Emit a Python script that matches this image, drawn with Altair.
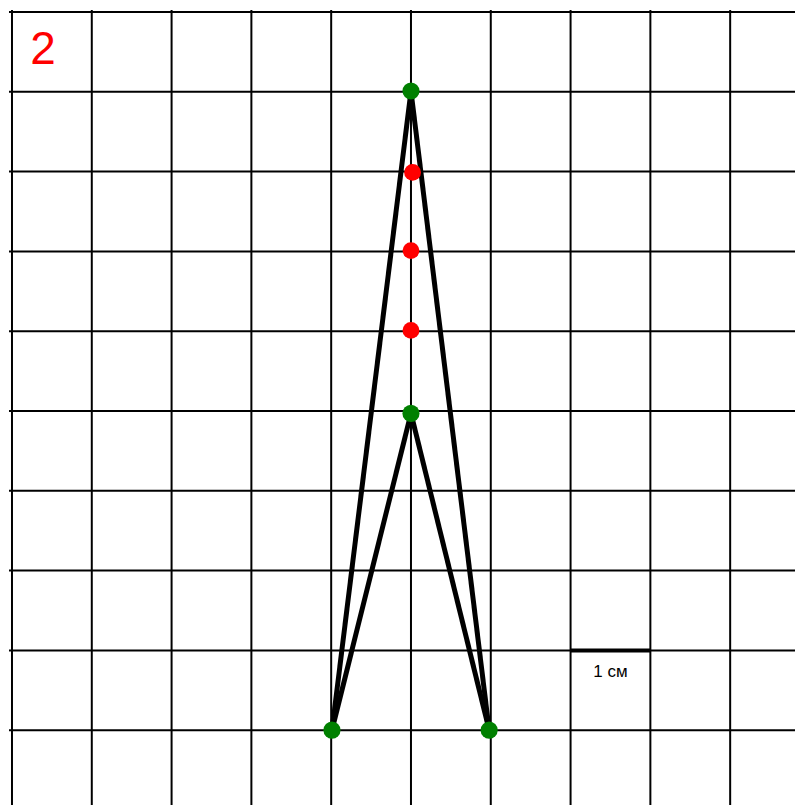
import altair as alt
import pandas as pd

# grid (in cm units)
grid_x = [0, 1, 2, 3, 4, 5, 6, 7, 8, 9]
grid_y = [0, 1, 2, 3, 4, 5, 6, 7, 8, 9]

# triangle segments
seg_x1 = [5.0, 5.0, 5.0, 5.0]
seg_y1 = [0.99, 0.99, 5.03, 5.03]
seg_x2 = [4.01, 5.98, 4.01, 5.98]
seg_y2 = [9.0, 9.0, 9.0, 9.0]

# points
green_x = [5.0, 5.0, 4.01, 5.98]
green_y = [0.99, 5.03, 9.0, 9.0]
red_x = [5.02, 5.0, 5.0]
red_y = [2.01, 2.99, 3.99]

# scale bar
bar_x = [7]
bar_x2 = [8]
bar_y = [8]
bar_label = ["1 см"]
panel_label = ["2"]

X0, Y0 = -3 / 80, -2 / 80
W, H = 788, 797
xs = alt.Scale(domain=[X0, X0 + W / 80], nice=False, zero=False)
ys = alt.Scale(domain=[Y0, Y0 + H / 80], nice=False, zero=False, reverse=True)

vlines = alt.Chart(pd.DataFrame({"x": grid_x})).mark_rule(color="black", strokeWidth=2).encode(
    x=alt.X("x:Q", scale=xs, axis=None)
)
hlines = alt.Chart(pd.DataFrame({"y": grid_y})).mark_rule(color="black", strokeWidth=2).encode(
    y=alt.Y("y:Q", scale=ys, axis=None)
)

segs = alt.Chart(pd.DataFrame({"x": seg_x1, "y": seg_y1, "x2": seg_x2, "y2": seg_y2})).mark_rule(
    color="black", strokeWidth=5
).encode(
    x=alt.X("x:Q", scale=xs, axis=None),
    y=alt.Y("y:Q", scale=ys, axis=None),
    x2="x2:Q",
    y2="y2:Q",
)

bar = alt.Chart(pd.DataFrame({"x": bar_x, "x2": bar_x2, "y": bar_y})).mark_rule(
    color="black", strokeWidth=4
).encode(
    x=alt.X("x:Q", scale=xs, axis=None),
    x2="x2:Q",
    y=alt.Y("y:Q", scale=ys, axis=None),
)

bar_text = alt.Chart(pd.DataFrame({"x": [7.5], "y": [8.275], "t": bar_label})).mark_text(
    font="Liberation Sans", fontSize=17, color="black", baseline="middle", align="center"
).encode(
    x=alt.X("x:Q", scale=xs, axis=None),
    y=alt.Y("y:Q", scale=ys, axis=None),
    text="t:N",
)

greens = alt.Chart(pd.DataFrame({"x": green_x, "y": green_y})).mark_circle(
    color="#008000", opacity=1, size=295
).encode(
    x=alt.X("x:Q", scale=xs, axis=None),
    y=alt.Y("y:Q", scale=ys, axis=None),
)

reds = alt.Chart(pd.DataFrame({"x": red_x, "y": red_y})).mark_circle(
    color="#ff0000", opacity=1, size=285
).encode(
    x=alt.X("x:Q", scale=xs, axis=None),
    y=alt.Y("y:Q", scale=ys, axis=None),
)

label = alt.Chart(pd.DataFrame({"x": [0.3875], "y": [0.475], "t": panel_label})).mark_text(
    font="Liberation Sans", fontSize=46, color="#ff0000", baseline="middle", align="center"
).encode(
    x=alt.X("x:Q", scale=xs, axis=None),
    y=alt.Y("y:Q", scale=ys, axis=None),
    text="t:N",
)

chart = alt.layer(vlines, hlines, segs, bar, bar_text, greens, reds, label).properties(
    width=W, height=H, padding=0, background="white"
).configure_view(stroke=None)

chart.save("out.html", embed_options={"renderer": "svg", "actions": False})
